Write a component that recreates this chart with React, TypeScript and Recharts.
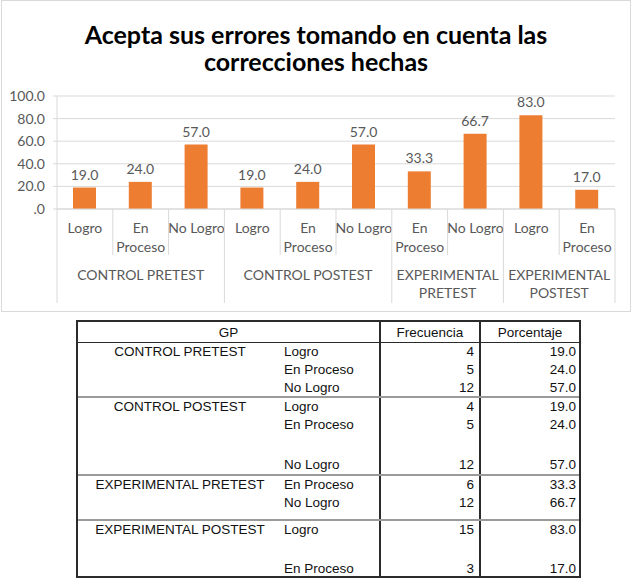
import { Bar, BarChart, CartesianGrid, LabelList, XAxis, YAxis } from "recharts"

// groups of the test, one entry per bar
const groupNames = ["CONTROL PRETEST", "CONTROL POSTEST", "EXPERIMENTAL PRETEST", "EXPERIMENTAL POSTEST"]
const groupOf = [0, 0, 0, 1, 1, 1, 2, 2, 3, 3]
const levels = ["Logro", "En Proceso", "No Logro", "Logro", "En Proceso", "No Logro", "En Proceso", "No Logro", "Logro", "En Proceso"]
const frequencies = [4, 5, 12, 4, 5, 12, 6, 12, 15, 3]
const percentages = [19.0, 24.0, 57.0, 19.0, 24.0, 57.0, 33.3, 66.7, 83.0, 17.0]
const yTicks = [0, 20, 40, 60, 80, 100]

const CHART_W = 630
const CHART_H = 312
const MARGIN = { top: 96, right: 16, bottom: 3, left: 6 }
const Y_AXIS_W = 50
const PLOT_W = CHART_W - MARGIN.left - MARGIN.right - Y_AXIS_W
const BAND = PLOT_W / levels.length

const CHART_FONT = "Lato, 'Noto Sans', sans-serif"
const AXIS_GREY = "#d9d9d9"
const TEXT_GREY = "#595959"

const data = levels.map((level, i) => ({
  key: `${i}`,
  level,
  group: groupNames[groupOf[i]],
  value: percentages[i],
}))

function splitLabel(text: string, maxChars: number) {
  if (text.length <= maxChars) return [text]
  const cut = text.indexOf(" ")
  return cut < 0 ? [text] : [text.slice(0, cut), text.slice(cut + 1)]
}

function CategoryTick(props: any) {
  const { x, y, payload } = props
  const index: number = props.index ?? payload.index
  const left = x - BAND / 2
  const g = groupOf[index]
  const isFirst = index === 0 || groupOf[index - 1] !== g
  const isLast = index === levels.length - 1
  const count = groupOf.filter((v) => v === g).length
  const subLines = splitLabel(levels[index], 8)
  const groupLines = count < 3 ? splitLabel(groupNames[g], 12) : [groupNames[g]]

  return (
    <g>
      <line x1={left} x2={left} y1={y} y2={y + (isFirst ? 94 : 46)} stroke={AXIS_GREY} />
      {isLast && <line x1={left + BAND} x2={left + BAND} y1={y} y2={y + 94} stroke={AXIS_GREY} />}
      <text x={x} y={y + 24} textAnchor="middle" fill={TEXT_GREY} fontSize={14}>
        {subLines.map((line, i) => (
          <tspan key={i} x={x} dy={i === 0 ? 0 : 19}>
            {line}
          </tspan>
        ))}
      </text>
      {isFirst && (
        <text x={left + (count * BAND) / 2} y={y + 71} textAnchor="middle" fill={TEXT_GREY} fontSize={14}>
          {groupLines.map((line, i) => (
            <tspan key={i} x={left + (count * BAND) / 2} dy={i === 0 ? 0 : 18}>
              {line}
            </tspan>
          ))}
        </text>
      )}
    </g>
  )
}

// table layout: which groups push their last row to the bottom, and group heights
const groupHeights = [53, 78, 45, 59]
const pushLast = [false, true, false, true]

const DARK = "#2b2b2b"
const SOFT = "#9a9a9a"

function FrequencyTable() {
  const cell: React.CSSProperties = { position: "absolute", top: 0, lineHeight: "18px", whiteSpace: "nowrap" }
  return (
    <div
      style={{
        position: "absolute",
        left: 76,
        top: 320,
        width: 505,
        height: 258,
        border: `2px solid ${DARK}`,
        boxSizing: "border-box",
        fontFamily: "'Liberation Sans', Arial, sans-serif",
        fontSize: 13.5,
        color: "#111",
      }}
    >
      {/* column dividers */}
      <div style={{ position: "absolute", left: 301, top: 0, bottom: 0, width: 2, background: DARK }} />
      <div style={{ position: "absolute", left: 401, top: 0, bottom: 0, width: 1.5, background: DARK }} />
      {/* header */}
      <div style={{ position: "relative", height: 20, borderBottom: `1.5px solid ${DARK}` }}>
        <div style={{ ...cell, left: 0, width: 301, textAlign: "center", lineHeight: "22px" }}>GP</div>
        <div style={{ ...cell, left: 303, width: 98, textAlign: "center", lineHeight: "22px" }}>Frecuencia</div>
        <div style={{ ...cell, left: 403, width: 98, textAlign: "center", lineHeight: "22px" }}>Porcentaje</div>
      </div>
      {groupNames.map((name, g) => {
        const rows = levels.map((_, i) => i).filter((i) => groupOf[i] === g)
        return (
          <div
            key={name}
            style={{
              position: "relative",
              height: groupHeights[g],
              borderTop: g === 0 ? "none" : `2px solid ${SOFT}`,
              boxSizing: "border-box",
              display: "flex",
              flexDirection: "column",
            }}
          >
            {rows.map((i, r) => (
              <div
                key={i}
                style={{
                  position: "relative",
                  height: 18,
                  flex: "none",
                  marginTop: pushLast[g] && r === rows.length - 1 ? "auto" : 0,
                }}
              >
                {r === 0 && <div style={{ ...cell, left: 0, width: 204, textAlign: "center" }}>{name}</div>}
                <div style={{ ...cell, left: 206 }}>{levels[i]}</div>
                <div style={{ ...cell, left: 303, width: 93, textAlign: "right" }}>{frequencies[i]}</div>
                <div style={{ ...cell, left: 403, width: 95, textAlign: "right" }}>{percentages[i].toFixed(1)}</div>
              </div>
            ))}
          </div>
        )
      })}
    </div>
  )
}

export default function App() {
  return (
    <div style={{ position: "absolute", left: 0, top: 0, width: 634, height: 583, background: "#fff" }}>
      <div style={{ position: "absolute", left: 1, top: 0, width: CHART_W, height: CHART_H, fontFamily: CHART_FONT }}>
        <BarChart width={CHART_W} height={CHART_H} data={data} margin={MARGIN}>
          <CartesianGrid vertical={false} stroke={AXIS_GREY} />
          <XAxis
            dataKey="key"
            interval={0}
            height={100}
            tickSize={0}
            tickMargin={0}
            tickLine={false}
            axisLine={{ stroke: AXIS_GREY }}
            tick={<CategoryTick />}
          />
          <YAxis
            width={Y_AXIS_W}
            domain={[0, 100]}
            ticks={yTicks}
            interval={0}
            tickSize={4}
            tickMargin={8}
            tickLine={{ stroke: AXIS_GREY }}
            axisLine={{ stroke: AXIS_GREY }}
            tick={{ fill: TEXT_GREY, fontSize: 14 }}
            tickFormatter={(v: number) => (v === 0 ? ".0" : v.toFixed(1))}
          />
          <Bar dataKey="value" fill="#ed7d31" barSize={23} isAnimationActive={false}>
            <LabelList
              dataKey="value"
              position="top"
              offset={8}
              fill={TEXT_GREY}
              fontSize={14}
              formatter={(v: any) => Number(v).toFixed(1)}
            />
          </Bar>
        </BarChart>
        <div
          style={{
            position: "absolute",
            left: 0,
            top: 21,
            width: CHART_W,
            textAlign: "center",
            fontSize: 25,
            lineHeight: "27px",
            fontWeight: 700,
            color: "#000",
          }}
        >
          Acepta sus errores tomando en cuenta las
          <br />
          correcciones hechas
        </div>
        <div
          style={{
            position: "absolute",
            left: 0,
            top: 0,
            width: CHART_W,
            height: CHART_H,
            border: `1px solid ${AXIS_GREY}`,
            boxSizing: "border-box",
            pointerEvents: "none",
          }}
        />
      </div>
      <FrequencyTable />
    </div>
  )
}
